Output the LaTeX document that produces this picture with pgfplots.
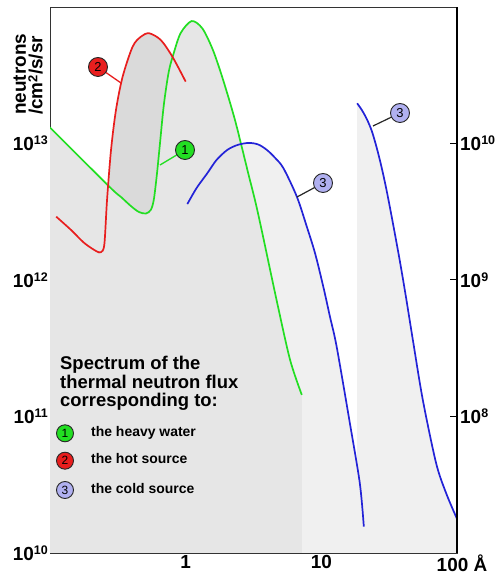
\documentclass[border=0pt]{standalone}
\usepackage{fontspec}
\setmainfont{Liberation Sans}
\usepackage{pgfplots}
\pgfplotsset{compat=1.18}
\usepackage{pgfplotstable}
\usepgfplotslibrary{fillbetween}

\definecolor{cgreen}{RGB}{34,222,34}
\definecolor{cred}{RGB}{232,30,30}
\definecolor{cblue}{RGB}{35,35,215}
\definecolor{clav}{RGB}{176,176,240}
\definecolor{fa}{RGB}{240,240,240}
\definecolor{fb}{RGB}{230,230,230}
\definecolor{fc}{RGB}{218,218,218}

\newcommand\tlfont{\fontsize{19}{19}\selectfont\bfseries}
\newcommand\pw[1]{10\raisebox{6bp}{\fontsize{12.5}{12.5}\selectfont #1}}

% heavy water
\pgfplotstableread{
x y
0.1    1.31e13
0.2737 4.83e12
0.3334 4.06e12
0.395  3.48e12
0.452  3.15e12
0.509  3.07e12
0.553  3.26e12
0.582  3.86e12
0.613  5.88e12
0.645  9.75e12
0.690  1.91e13
0.750  3.34e13
0.817  4.60e13
0.919  6.45e13
1.107  7.89e13
1.326  6.98e13
1.570  4.98e13
1.806  3.36e13
2.078  2.14e13
2.327  1.445e13
2.606  9.22e12
2.913  5.88e12
3.263  3.75e12
3.654  2.26e12
4.73   6.78e11
5.89   2.59e11
7.18   1.44e11
}\green

% hot source
\pgfplotstableread{
x y
0.1112 2.91e12
0.1433 2.32e12
0.1785 1.87e12
0.2186 1.63e12
0.2378 1.60e12
0.2516 1.83e12
0.2633 3.86e12
0.2817 8.96e12
0.3064 1.76e13
0.3432 3.09e13
0.4064 5.12e13
0.4676 6.06e13
0.538  6.42e13
0.6555 5.73e13
0.7991 4.32e13
1.0    2.84e13
}\red

% cold source, first curve
\pgfplotstableread{
x y
1.029 3.60e12
1.204 4.72e12
1.443 6.05e12
1.688 7.57e12
2.023 8.96e12
2.407 9.75e12
2.913 1.01e13
3.433 9.83e12
3.976 8.96e12
4.572 7.83e12
5.262 6.58e12
6.60  4.08e12
7.815 2.46e12
8.99  1.57e12
10.34 8.93e11
11.58 5.38e11
12.97 3.25e11
16.24 8.91e10
19.22 3.24e10
20.57 1.56e10
}\blueA

% cold source, second curve
\pgfplotstableread{
x y
18.37 1.97e13
19.89 1.76e13
21.64 1.51e13
23.55 1.235e13
25.63 9.27e12
27.88 6.62e12
30.34 4.49e12
33.57 2.66e12
37.80 1.40e12
41.82 7.76e11
47.3  3.63e11
56.0  1.32e11
70.2  4.54e10
83.2  2.74e10
99.5  1.80e10
}\blueB

\tikzset{
  lab/.style={circle, draw=black!85, line width=0.9bp, minimum size=19bp,
    inner sep=0pt, font=\fontsize{13}{13}\selectfont},
  leg/.style={lab, minimum size=17bp, font=\fontsize{12}{12}\selectfont},
}

\begin{document}
\begin{tikzpicture}

\begin{axis}[
  scale only axis, width=407bp, height=546bp,
  at={(0bp,0bp)}, anchor=south west,
  xmode=log, ymode=log,
  xmin=0.1, xmax=100, ymin=1e10, ymax=1e14,
  xtick={1,10,100}, xticklabels={1,10,\hspace*{10bp}100 Å},
  ytick={1e10,1e11,1e12,1e13},
  yticklabels={\pw{10},\pw{11},\pw{12},\pw{13}},
  tick pos=left,
  minor tick style={draw=none},
  major tick length=7bp,
  tick style={black, line width=1bp},
  axis line style={black!80, line width=0.9bp},
  ticklabel style={font=\tlfont},
  xticklabel style={inner sep=2bp},
  yticklabel style={inner sep=2bp},
]
\addplot[draw=none, fill=fa, smooth] table {\blueA} \closedcycle;
\addplot[draw=none, fill=fa, smooth] table {\blueB} \closedcycle;
\addplot[draw=none, fill=fb, smooth] table {\green} \closedcycle;
\addplot[draw=none, smooth, name path=G] table {\green};
\addplot[draw=none, smooth, name path=R] table {\red};
\addplot[fill=fc, draw=none] fill between[of=G and R,
  soft clip={(axis cs:0.1,1e10) rectangle (axis cs:0.79,1e14)}];
\addplot[cgreen, line width=1.7bp, smooth] table {\green};
\addplot[cred, line width=1.7bp, smooth] table {\red};
\addplot[cblue, line width=1.7bp, smooth] table {\blueA};
\addplot[cblue, line width=1.7bp, smooth] table {\blueB};
\end{axis}

\begin{axis}[
  scale only axis, width=407bp, height=546bp,
  at={(0bp,0bp)}, anchor=south west,
  xmode=log, ymode=log,
  xmin=0.1, xmax=100, ymin=1e7, ymax=1e11,
  axis x line=none, axis y line*=right,
  ytick={1e8,1e9,1e10}, yticklabels={\pw{8},\pw{9},\pw{10}},
  minor tick style={draw=none},
  major tick length=7bp,
  tick style={black, line width=1bp},
  axis line style={black, line width=1.6bp},
  yticklabel style={font=\tlfont, inner sep=3bp},
]
\addplot[draw=none] coordinates {(1,1e9)};
\end{axis}

% axis title
\node[rotate=90, anchor=south west, inner sep=0pt, align=left,
  font=\fontsize{19}{16.5}\selectfont\bfseries] at (-7bp,438bp)
  {neutrons\\/cm\raisebox{5bp}{\fontsize{13}{13}\selectfont 2}/s/sr};

% curve labels
\draw[cgreen, line width=1.3bp] (110bp,388bp) -- (135bp,403bp);
\node[lab, fill=cgreen] at (135bp,403bp) {1};
\draw[cred, line width=1.3bp] (71bp,470bp) -- (48bp,486bp);
\node[lab, fill=cred] at (48bp,486bp) {2};
\draw[black!85, line width=1.2bp] (247bp,356bp) -- (273bp,370bp);
\node[lab, fill=clav] at (273bp,370bp) {3};
\draw[black!85, line width=1.2bp] (323bp,427bp) -- (350bp,440bp);
\node[lab, fill=clav] at (350bp,440bp) {3};

% key
\begin{scope}[every node/.style={anchor=base west, inner sep=0pt}]
\node[font=\fontsize{18.5}{18.5}\selectfont\bfseries] at (10bp,183bp) {Spectrum of the};
\node[font=\fontsize{18.5}{18.5}\selectfont\bfseries] at (10bp,164.7bp) {thermal neutron flux};
\node[font=\fontsize{18.5}{18.5}\selectfont\bfseries] at (10bp,146.3bp) {corresponding to:};
\node[font=\fontsize{14}{14}\selectfont\bfseries] at (41bp,116.3bp) {the heavy water};
\node[font=\fontsize{14}{14}\selectfont\bfseries] at (41bp,89bp) {the hot source};
\node[font=\fontsize{14}{14}\selectfont\bfseries] at (41bp,59.5bp) {the cold source};
\end{scope}
\node[leg, fill=cgreen] at (15bp,119.7bp) {1};
\node[leg, fill=cred] at (15bp,92.3bp) {2};
\node[leg, fill=clav] at (15bp,63bp) {3};

\pgfresetboundingbox
\path[use as bounding box] (-50bp,-23bp) rectangle (450bp,553bp);
\end{tikzpicture}
\end{document}
